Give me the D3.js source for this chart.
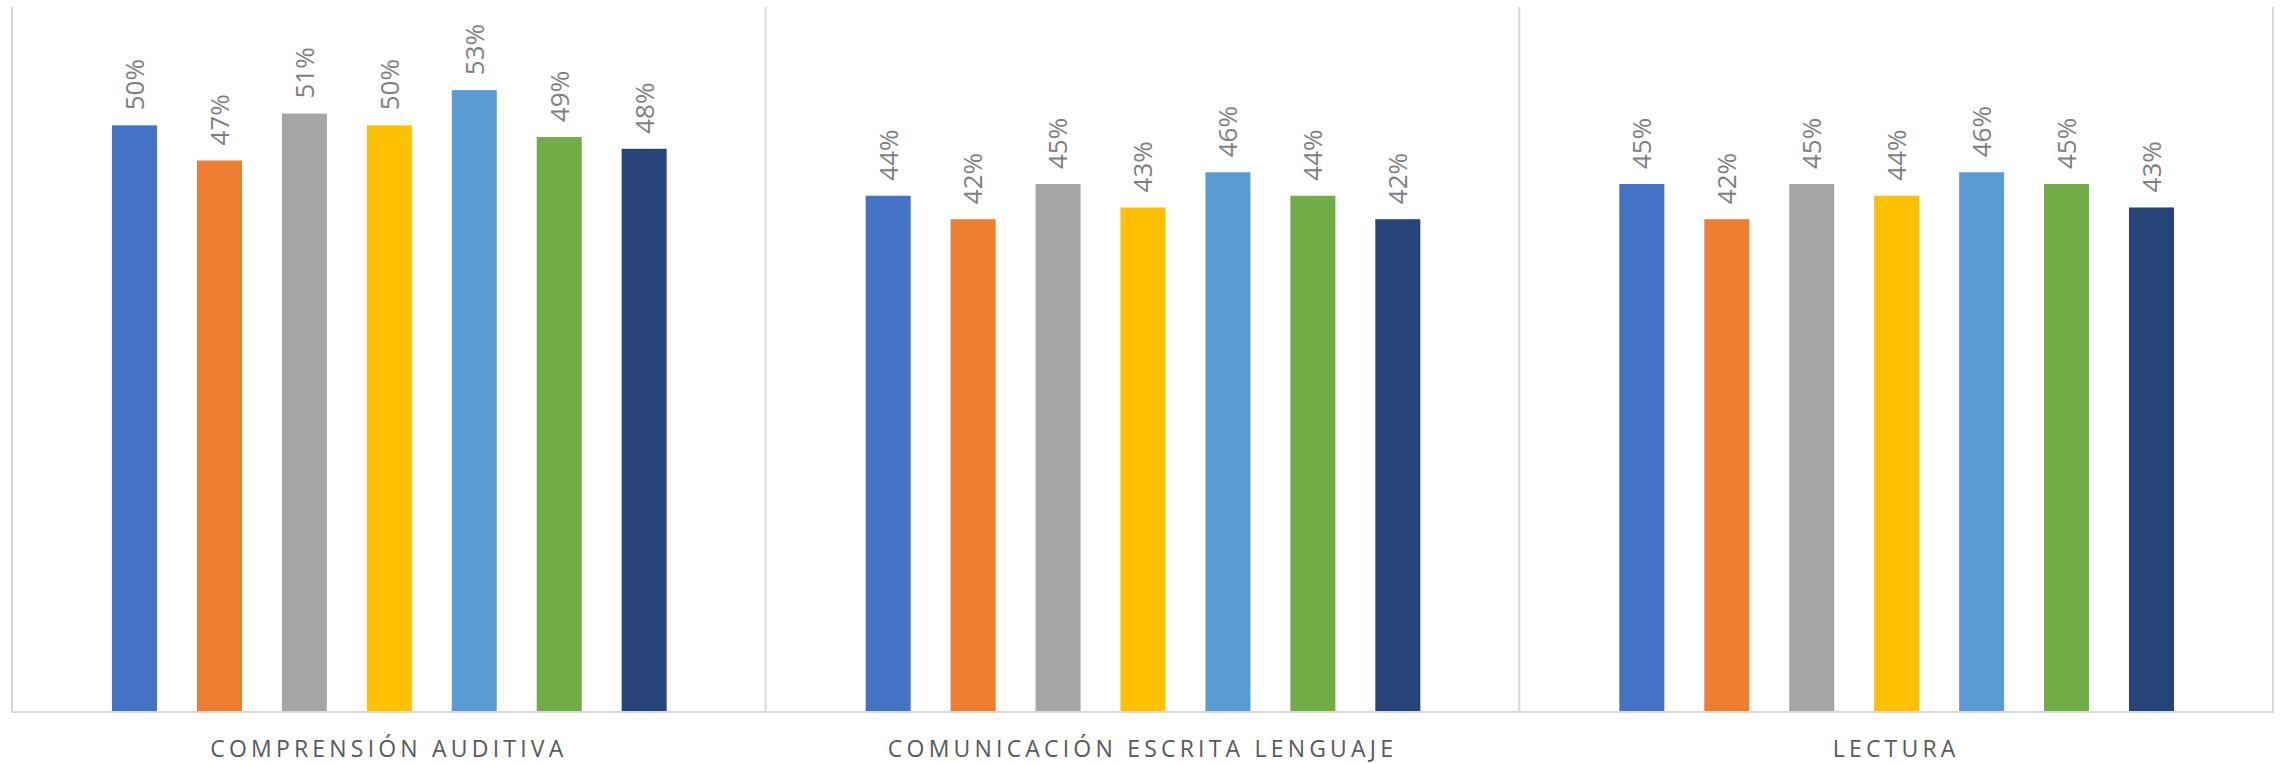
<!DOCTYPE html>
<html>
<head>
<meta charset="utf-8">
<script src="https://cdn.jsdelivr.net/npm/d3@7"></script>
<style>
  html, body { margin: 0; padding: 0; background: #ffffff; }
  svg { display: block; }
</style>
</head>
<body>
<svg id="chart" width="2280" height="763"></svg>
<script>
// Category groups along the x axis
const categories = ["COMPRENSIÓN AUDITIVA", "COMUNICACIÓN ESCRITA LENGUAJE", "LECTURA"];

// One value per category for each of the seven series (share, 0–1)
const series1 = [0.50, 0.44, 0.45];
const series2 = [0.47, 0.42, 0.42];
const series3 = [0.51, 0.45, 0.45];
const series4 = [0.50, 0.43, 0.44];
const series5 = [0.53, 0.46, 0.46];
const series6 = [0.49, 0.44, 0.45];
const series7 = [0.48, 0.42, 0.43];

const seriesNames = ["S1", "S2", "S3", "S4", "S5", "S6", "S7"];
const seriesValues = [series1, series2, series3, series4, series5, series6, series7];
const seriesColors = ["#4472C4", "#ED7D31", "#A5A5A5", "#FFC000", "#5B9BD5", "#70AD47", "#264478"];

const svg = d3.select("#chart");
const plot = { left: 12, right: 2273, top: 7, bottom: 712 };

const x0 = d3.scaleBand()
  .domain(categories)
  .range([plot.left, plot.right])
  .paddingInner(0)
  .paddingOuter(0);

const groupPad = 100;
const x1 = d3.scaleBand()
  .domain(seriesNames)
  .range([groupPad, x0.bandwidth() - groupPad + 1])
  .paddingInner(0.47)
  .paddingOuter(0);

const y = d3.scaleLinear().domain([0, 0.6]).range([plot.bottom, plot.top + 1]);

const gridColor = "#d9d9d9";

// Vertical category separators (including both outer edges)
const bounds = categories.map(c => x0(c)).concat([plot.right]);
svg.append("g")
  .selectAll("line")
  .data(bounds)
  .join("line")
  .attr("x1", d => d).attr("x2", d => d)
  .attr("y1", plot.top).attr("y2", plot.bottom)
  .attr("stroke", gridColor)
  .attr("stroke-width", 2);

// Bars and rotated value labels
const rows = [];
categories.forEach((c, ci) => {
  seriesNames.forEach((s, si) => {
    rows.push({ cat: c, name: s, value: seriesValues[si][ci], color: seriesColors[si] });
  });
});

const g = svg.append("g");
g.selectAll("rect")
  .data(rows)
  .join("rect")
  .attr("x", d => x0(d.cat) + x1(d.name))
  .attr("y", d => y(d.value))
  .attr("width", x1.bandwidth())
  .attr("height", d => y(0) - y(d.value))
  .attr("fill", d => d.color);

const fmt = d3.format(".0%");
g.selectAll("text")
  .data(rows)
  .join("text")
  .attr("transform", d => {
    const cx = x0(d.cat) + x1(d.name) + x1.bandwidth() / 2;
    const cy = y(d.value) - 15;
    return `translate(${cx},${cy}) rotate(-90)`;
  })
  .attr("text-anchor", "start")
  .attr("dy", "0.36em")
  .attr("font-family", "'Open Sans', sans-serif")
  .attr("font-size", 26)
  .attr("fill", "#7f7f7f")
  .text(d => fmt(d.value));

// Baseline
svg.append("line")
  .attr("x1", plot.left - 1).attr("x2", plot.right + 1)
  .attr("y1", plot.bottom).attr("y2", plot.bottom)
  .attr("stroke", gridColor)
  .attr("stroke-width", 2);

// Category axis labels
svg.append("g")
  .selectAll("text")
  .data(categories)
  .join("text")
  .attr("x", d => x0(d) + x0.bandwidth() / 2)
  .attr("y", 757)
  .attr("text-anchor", "middle")
  .attr("font-family", "'Open Sans', sans-serif")
  .attr("font-size", 23)
  .attr("letter-spacing", 4.2)
  .attr("fill", "#595959")
  .text(d => d);
</script>
</body>
</html>
